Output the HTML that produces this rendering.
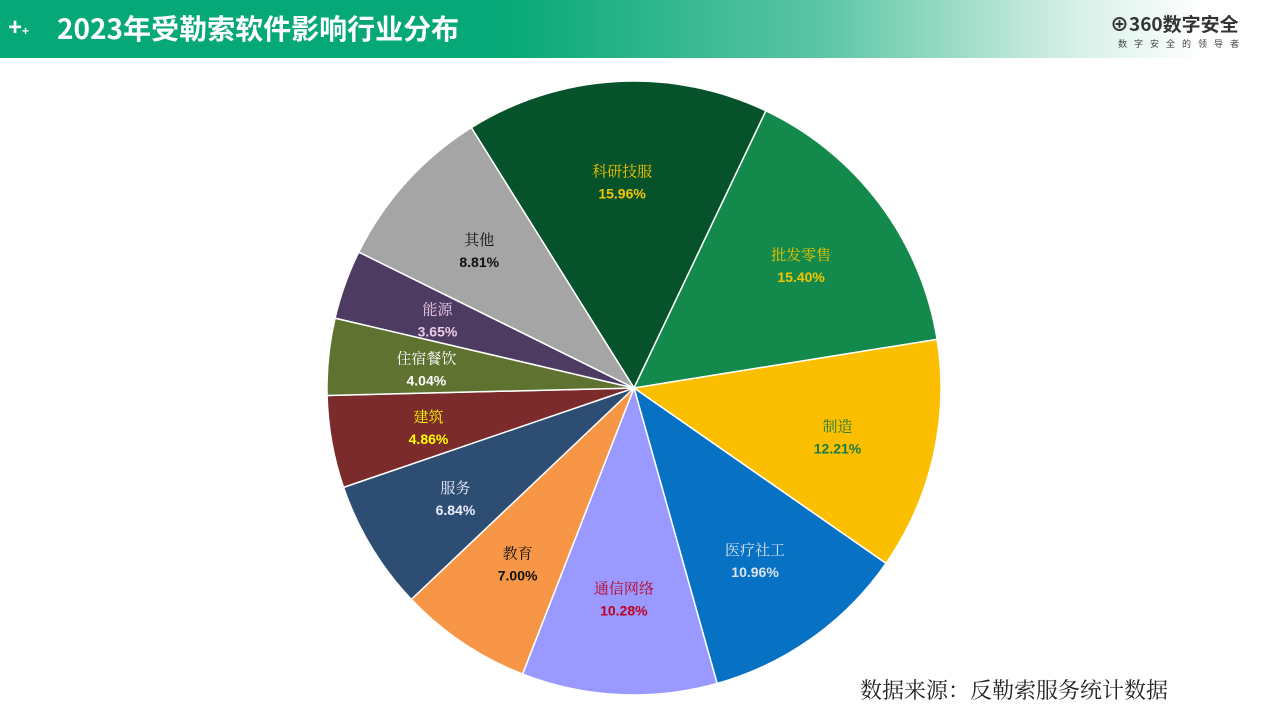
<!DOCTYPE html>
<html><head><meta charset="utf-8"><style>
body{margin:0;width:1267px;height:713px;overflow:hidden;background:#fff;font-family:"Liberation Sans","Noto Sans CJK SC",sans-serif;position:relative}
#hdr{position:absolute;left:0;top:0;width:1267px;height:58px;background:linear-gradient(90deg,#07a877 0%,#07a877 40%,#5cc6a4 65%,#d7f0e8 85%,#fff 95%)}
#title{position:absolute;left:57px;top:11px;font-size:28px;font-weight:bold;color:#fff;font-family:"Noto Sans CJK SC",sans-serif;line-height:34px}
#plus{position:absolute;left:8px;top:14px;color:#fff;font-size:24px;font-weight:bold}
#logo{position:absolute;left:1110px;top:10px;font-size:19px;color:#333;font-family:"Noto Sans CJK SC",sans-serif;font-weight:bold}
#slogan{position:absolute;left:1118px;top:37px;font-size:9px;letter-spacing:7px;color:#444;font-family:"Noto Sans CJK SC",sans-serif}
#src{position:absolute;left:860px;top:674px;font-size:22px;color:#222;font-family:"Noto Serif CJK SC",serif}
</style></head><body>
<div id="hdr"></div>
<div id="plus">+<span style="font-size:12px">+</span></div>
<div id="title">2023年受勒索软件影响行业分布</div>
<div id="logo">⊕360数字安全</div>
<div id="slogan">数字安全的领导者</div>
<svg id="chart" width="1267" height="713" style="position:absolute;left:0;top:0"></svg>
<div id="src">数据来源：反勒索服务统计数据</div>
<script>
const categories=["科研技服","批发零售","制造","医疗社工","通信网络","教育","服务","建筑","住宿餐饮","能源","其他"];
const values=[15.96,15.40,12.21,10.96,10.28,7.00,6.84,4.86,4.04,3.65,8.81];
const sliceColors=["#06532b","#138a4b","#fbbf00","#0771c4","#9999ff","#f79646","#2e4d73","#7b2b2b","#5f7230","#4d3b62","#a5a5a5"];
const labelColors=["#f5c400","#f5c400","#1a7a40","#dde4f0","#c00020","#111","#eef","#ffff00","#fff","#eccbe6","#111"];
const svg=document.getElementById('chart');
const NS='http://www.w3.org/2000/svg';
const cx=634,cy=388,r=307,start=-32;
const total=values.reduce((a,b)=>a+b,0);
function pt(deg,rad){const a=deg*Math.PI/180;return [cx+rad*Math.sin(a),cy-rad*Math.cos(a)];}
let ang=start;
values.forEach((v,i)=>{
  const sweep=v/total*360,a1=ang,a2=ang+sweep;
  const p1=pt(a1,r),p2=pt(a2,r);
  const path=document.createElementNS(NS,'path');
  path.setAttribute('d',`M${cx},${cy}L${p1[0]},${p1[1]}A${r},${r} 0 ${sweep>180?1:0} 1 ${p2[0]},${p2[1]}Z`);
  path.setAttribute('fill',sliceColors[i]);path.setAttribute('stroke','#fff');path.setAttribute('stroke-width','1.5');
  
  
  svg.appendChild(path);
  const lp=pt((a1+a2)/2,r*0.68);
  const t=document.createElementNS(NS,'text');
  t.setAttribute('x',lp[0]);t.setAttribute('y',lp[1]-3);t.setAttribute('text-anchor','middle');
  t.setAttribute('font-size','15');t.setAttribute('fill',labelColors[i]);
  t.setAttribute('font-family','"Liberation Serif","Noto Serif CJK SC",serif');
  
  
  t.textContent=categories[i];svg.appendChild(t);
  const t2=document.createElementNS(NS,'text');
  t2.setAttribute('x',lp[0]);t2.setAttribute('y',lp[1]+19);t2.setAttribute('text-anchor','middle');
  t2.setAttribute('font-size','14');t2.setAttribute('font-weight','bold');t2.setAttribute('fill',labelColors[i]);
  t2.setAttribute('font-family','"Liberation Sans",sans-serif');
  
  
  t2.textContent=v.toFixed(2)+'%';svg.appendChild(t2);
  ang=a2;
});
</script>
</body></html>
